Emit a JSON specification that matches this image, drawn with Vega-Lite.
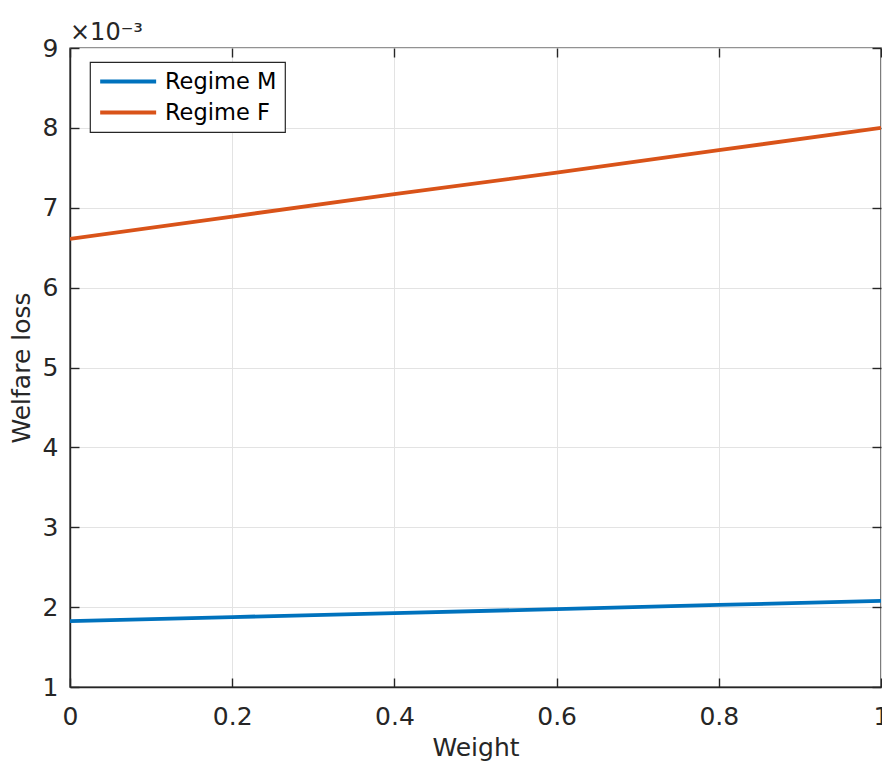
{
  "$schema": "https://vega.github.io/schema/vega-lite/v6.json",
  "autosize": {"type": "none"},
  "padding": {"left": 70, "top": 48, "right": 1, "bottom": 77},
  "width": 811,
  "height": 639,
  "background": "white",
  "title": {
    "text": "×10⁻³",
    "anchor": "start",
    "frame": "group",
    "font": "DejaVu Sans",
    "fontSize": 24,
    "fontWeight": "normal",
    "color": "#262626",
    "baseline": "alphabetic",
    "offset": -28
  },
  "data": {
    "values": [
      {"weight": 0.0, "loss": 0.001825, "regime": "Regime M"},
      {"weight": 0.2, "loss": 0.001875, "regime": "Regime M"},
      {"weight": 0.4, "loss": 0.001925, "regime": "Regime M"},
      {"weight": 0.6, "loss": 0.001975, "regime": "Regime M"},
      {"weight": 0.8, "loss": 0.002027, "regime": "Regime M"},
      {"weight": 1.0, "loss": 0.002078, "regime": "Regime M"},
      {"weight": 0.0, "loss": 0.00661, "regime": "Regime F"},
      {"weight": 0.2, "loss": 0.00689, "regime": "Regime F"},
      {"weight": 0.4, "loss": 0.00717, "regime": "Regime F"},
      {"weight": 0.6, "loss": 0.00744, "regime": "Regime F"},
      {"weight": 0.8, "loss": 0.00772, "regime": "Regime F"},
      {"weight": 1.0, "loss": 0.008, "regime": "Regime F"}
    ]
  },
  "layer": [
    {
      "mark": {"type": "line", "strokeWidth": 3.8, "clip": true},
      "encoding": {
        "x": {
          "field": "weight",
          "type": "quantitative",
          "scale": {"domain": [0, 1], "nice": false},
          "axis": {
            "orient": "bottom",
            "title": "Weight",
            "values": [0, 0.2, 0.4, 0.6, 0.8, 1],
            "format": ".1~f",
            "grid": true,
            "labelPadding": 26,
            "titlePadding": 6
          }
        },
        "y": {
          "field": "loss",
          "type": "quantitative",
          "scale": {"domain": [0.001, 0.009], "nice": false, "zero": false},
          "axis": {
            "orient": "left",
            "title": "Welfare loss",
            "values": [0.001, 0.002, 0.003, 0.004, 0.005, 0.006, 0.007, 0.008, 0.009],
            "labelExpr": "format(datum.value * 1000, '.0f')",
            "grid": true,
            "labelPadding": 21,
            "titlePadding": 8
          }
        },
        "color": {
          "field": "regime",
          "type": "nominal",
          "scale": {"domain": ["Regime M", "Regime F"], "range": ["#0072BD", "#D95319"]},
          "legend": {
            "title": null,
            "orient": "none",
            "legendX": 20,
            "legendY": 14
          }
        }
      }
    },
    {
      "mark": {"type": "point", "opacity": 0},
      "encoding": {
        "x": {
          "field": "weight",
          "type": "quantitative",
          "axis": {
            "orient": "top",
            "title": null,
            "labels": false,
            "grid": false,
            "domain": false,
            "values": [0, 0.2, 0.4, 0.6, 0.8, 1]
          }
        },
        "y": {
          "field": "loss",
          "type": "quantitative",
          "axis": {
            "orient": "right",
            "title": null,
            "labels": false,
            "grid": false,
            "domain": false,
            "values": [0.001, 0.002, 0.003, 0.004, 0.005, 0.006, 0.007, 0.008, 0.009]
          }
        }
      }
    }
  ],
  "resolve": {"axis": {"x": "independent", "y": "independent"}},
  "config": {
    "view": {"stroke": "#262626", "strokeWidth": 1.4},
    "axis": {
      "domainColor": "#262626",
      "domainWidth": 1.4,
      "tickColor": "#262626",
      "tickWidth": 1.4,
      "tickSize": -9,
      "gridColor": "#e3e3e3",
      "gridWidth": 1,
      "labelFont": "DejaVu Sans",
      "labelFontSize": 25,
      "labelColor": "#262626",
      "labelFlush": false,
      "labelOverlap": false,
      "labelBound": false,
      "titleFont": "DejaVu Sans",
      "titleFontSize": 25,
      "titleFontWeight": "normal",
      "titleColor": "#262626"
    },
    "legend": {
      "symbolType": "M-1,0H5",
      "symbolSize": 348,
      "symbolStrokeWidth": 4,
      "symbolFillColor": "transparent",
      "labelFont": "DejaVu Sans",
      "labelFontSize": 22.5,
      "labelColor": "#000000",
      "labelOffset": 44,
      "rowPadding": 8,
      "padding": 8,
      "strokeColor": "#262626",
      "strokeWidth": 1.2,
      "fillColor": "white",
      "cornerRadius": 0
    }
  }
}
